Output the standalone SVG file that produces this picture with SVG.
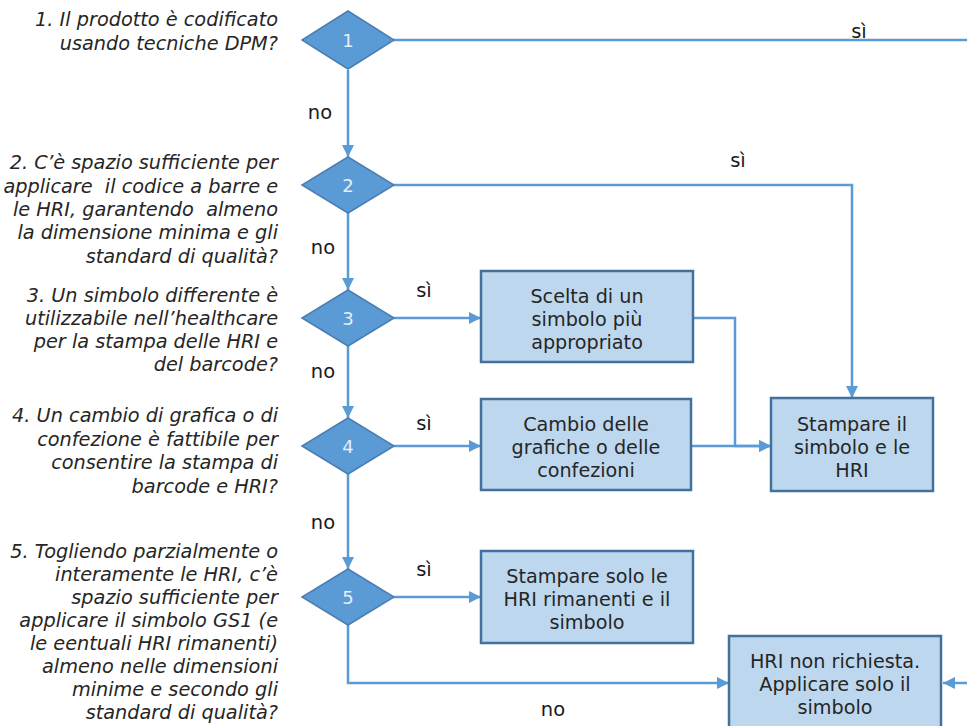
<svg xmlns="http://www.w3.org/2000/svg" width="967" height="726" viewBox="0 0 967 726">
<defs>
<marker id="arr" viewBox="0 0 12 12" refX="12" refY="6" markerWidth="12" markerHeight="12" markerUnits="userSpaceOnUse" orient="auto">
<path d="M0,0 L12,6 L0,12 z" fill="#5B9BD5"/>
</marker>
<style>
.q{font-family:"DejaVu Sans",Verdana,sans-serif;font-style:italic;font-size:19.3px;fill:#262626;text-anchor:end;white-space:pre}
.lbl{font-family:"DejaVu Sans",Verdana,sans-serif;font-size:19.5px;fill:#1a1a1a;text-anchor:middle}
.bt{font-family:"DejaVu Sans",Verdana,sans-serif;font-size:19.2px;fill:#262626;text-anchor:middle}
.dn{font-family:"DejaVu Sans",Verdana,sans-serif;font-size:18px;fill:#e6eef8;text-anchor:middle}
.dia{fill:#5B9BD5;stroke:#4A7EB3;stroke-width:1.5}
.box{fill:#BDD7EE;stroke:#41719C;stroke-width:2.5}
.c{fill:none;stroke:#5B9BD5;stroke-width:2.5}
</style>
</defs>
<rect width="967" height="726" fill="#ffffff"/>

<g id="questions">
<text class="q" x="278" y="26">1. Il prodotto è codificato</text>
<text class="q" x="278" y="50">usando tecniche DPM?</text>
<text class="q" x="278" y="169">2. C’è spazio sufficiente per</text>
<text class="q" x="278" y="193" xml:space="preserve">applicare  il codice a barre e</text>
<text class="q" x="278" y="216" xml:space="preserve">le HRI, garantendo  almeno</text>
<text class="q" x="278" y="239">la dimensione minima e gli</text>
<text class="q" x="278" y="263">standard di qualità?</text>
<text class="q" x="278" y="302">3. Un simbolo differente è</text>
<text class="q" x="278" y="325">utilizzabile nell’healthcare</text>
<text class="q" x="278" y="348">per la stampa delle HRI e</text>
<text class="q" x="278" y="371">del barcode?</text>
<text class="q" x="278" y="422">4. Un cambio di grafica o di</text>
<text class="q" x="278" y="446">confezione è fattibile per</text>
<text class="q" x="278" y="469">consentire la stampa di</text>
<text class="q" x="278" y="493">barcode e HRI?</text>
<text class="q" x="278" y="558">5. Togliendo parzialmente o</text>
<text class="q" x="278" y="581">interamente le HRI, c’è</text>
<text class="q" x="278" y="604">spazio sufficiente per</text>
<text class="q" x="278" y="627">applicare il simbolo GS1 (e</text>
<text class="q" x="278" y="650">le eentuali HRI rimanenti)</text>
<text class="q" x="278" y="673">almeno nelle dimensioni</text>
<text class="q" x="278" y="696">minime e secondo gli</text>
<text class="q" x="278" y="719">standard di qualità?</text>
</g>

<g id="connectors">
<path class="c" d="M393,40 H970 V683 H943" marker-end="url(#arr)"/>
<path class="c" d="M348,70 V157" marker-end="url(#arr)"/>
<path class="c" d="M393,185 H852 V398" marker-end="url(#arr)"/>
<path class="c" d="M348,213 V290" marker-end="url(#arr)"/>
<path class="c" d="M393,318 H481" marker-end="url(#arr)"/>
<path class="c" d="M693,318 H735 V446 H771" marker-end="url(#arr)"/>
<path class="c" d="M348,346 V418" marker-end="url(#arr)"/>
<path class="c" d="M393,446 H481" marker-end="url(#arr)"/>
<path class="c" d="M691,446 H771" marker-end="url(#arr)"/>
<path class="c" d="M348,474 V569" marker-end="url(#arr)"/>
<path class="c" d="M393,597 H481" marker-end="url(#arr)"/>
<path class="c" d="M348,625 V683 H729" marker-end="url(#arr)"/>
<text class="lbl" x="859" y="38">sì</text>
<text class="lbl" x="320" y="119">no</text>
<text class="lbl" x="738" y="167">sì</text>
<text class="lbl" x="323" y="254">no</text>
<text class="lbl" x="424" y="297">sì</text>
<text class="lbl" x="323" y="378">no</text>
<text class="lbl" x="424" y="430">sì</text>
<text class="lbl" x="323" y="529">no</text>
<text class="lbl" x="424" y="576">sì</text>
<text class="lbl" x="553" y="716">no</text>
</g>

<g id="d1"><path class="dia" d="M348,11 L394,40 L348,69 L302,40 z"/><text class="dn" x="348" y="47">1</text></g>
<g id="d2"><path class="dia" d="M348,157 L394,185 L348,213 L302,185 z"/><text class="dn" x="348" y="192">2</text></g>
<g id="d3"><path class="dia" d="M348,290 L394,318 L348,346 L302,318 z"/><text class="dn" x="348" y="325">3</text></g>
<g id="d4"><path class="dia" d="M348,418 L394,446 L348,474 L302,446 z"/><text class="dn" x="348" y="453">4</text></g>
<g id="d5"><path class="dia" d="M348,569 L394,597 L348,625 L302,597 z"/><text class="dn" x="348" y="604">5</text></g>

<g id="b3"><rect class="box" x="481" y="271" width="212" height="91"/>
<text class="bt" x="587" y="303">Scelta di un</text><text class="bt" x="587" y="326">simbolo più</text><text class="bt" x="587" y="349">appropriato</text></g>
<g id="b4"><rect class="box" x="481" y="399" width="210" height="91"/>
<text class="bt" x="586" y="431">Cambio delle</text><text class="bt" x="586" y="454">grafiche o delle</text><text class="bt" x="586" y="477">confezioni</text></g>
<g id="bS"><rect class="box" x="771" y="398" width="162" height="93"/>
<text class="bt" x="852" y="431">Stampare il</text><text class="bt" x="852" y="454">simbolo e le</text><text class="bt" x="852" y="477">HRI</text></g>
<g id="b5"><rect class="box" x="481" y="551" width="212" height="92"/>
<text class="bt" x="587" y="583">Stampare solo le</text><text class="bt" x="587" y="606">HRI rimanenti e il</text><text class="bt" x="587" y="629">simbolo</text></g>
<g id="b6"><rect class="box" x="729" y="636" width="212" height="94"/>
<text class="bt" x="835" y="668">HRI non richiesta.</text><text class="bt" x="835" y="691">Applicare solo il</text><text class="bt" x="835" y="714">simbolo</text></g>
</svg>
